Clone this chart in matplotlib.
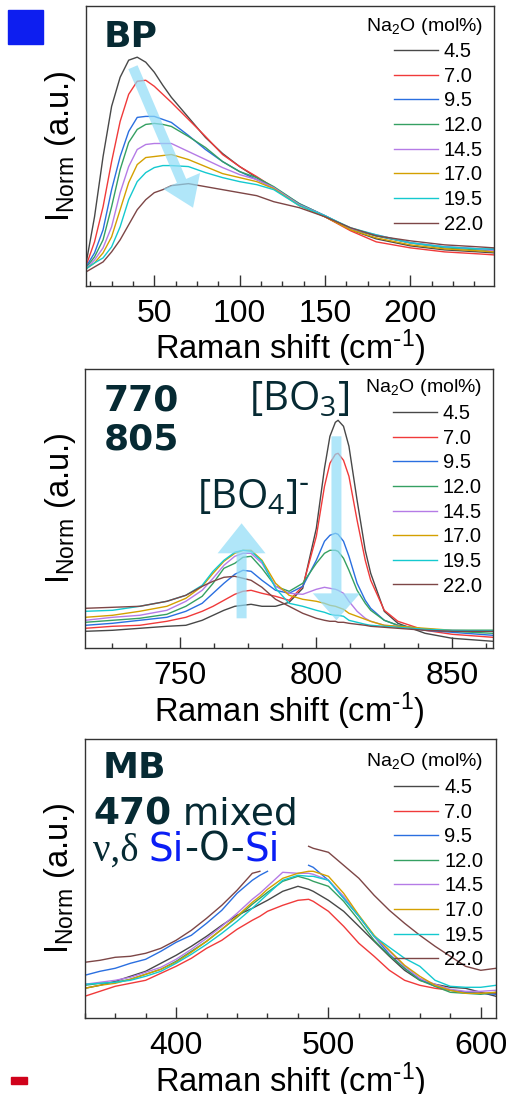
import numpy as np
import matplotlib
matplotlib.use('Agg')
import matplotlib.pyplot as plt
from matplotlib.patches import Rectangle
from matplotlib.ticker import MultipleLocator

plt.rcParams['font.family'] = ['Liberation Sans', 'DejaVu Sans']

nan = np.nan
labels = ['4.5', '7.0', '9.5', '12.0', '14.5', '17.0', '19.5', '22.0']
colors = ['#484848', '#f03a3a', '#2a6fe0', '#35a062', '#b57be6', '#d4a000', '#14c9cf', '#7d4646']

# --- BP panel (boson peak) ---
bp_x = [10, 15, 20, 25, 30, 35, 40, 45, 50, 55, 60, 70, 80, 90, 100, 110, 120, 135, 150, 165, 180, 200, 220, 240, 249]
bp_y = [
    [22, 69, 129, 179, 208, 225, 228, 223, 213, 200, 188, 168, 148, 132, 119, 108, 98, 81, 69, 56, 47, 40, 36, 34, 33],
    [20, 44, 79, 124, 164, 191, 204, 205, 199, 191, 183, 166, 149, 131, 119, 109, 98, 81, 69, 55, 44, 38, 34, 32, 31],
    [19, 33, 56, 96, 129, 154, 168, 169, 169, 166, 163, 150, 136, 124, 114, 106, 98, 82, 70, 57, 50, 43, 39, 37, 36],
    [18, 29, 46, 79, 116, 143, 156, 161, 162, 161, 159, 149, 138, 124, 114, 108, 99, 82, 70, 57, 50, 43, 38, 36, 35],
    [17, 26, 38, 59, 93, 119, 136, 141, 142, 142, 142, 134, 126, 118, 111, 106, 98, 81, 70, 57, 51, 43, 39, 37, 35],
    [17, 23, 33, 49, 76, 103, 121, 128, 129, 130, 131, 126, 119, 112, 108, 104, 97, 80, 69, 56, 48, 41, 37, 35, 34],
    [17, 23, 28, 39, 59, 86, 104, 113, 118, 120, 120, 119, 113, 108, 104, 101, 96, 80, 70, 58, 51, 43, 39, 37, 37],
    [14, 19, 24, 34, 46, 61, 76, 86, 93, 96, 100, 102, 99, 96, 93, 90, 84, 78, 69, 58, 50, 45, 41, 39, 38],
]

# --- 770 / 805 panel ---
b_x = [715, 725, 735, 745, 752, 758, 762, 766, 770, 773, 776, 780, 785, 790, 795, 800, 803, 805, 807, 808,
       810, 812, 815, 818, 820, 825, 830, 840, 850, 865]
b_y = [
    [17, 18, 20, 22, 23, 28, 33, 38, 42, 43, 44, 42, 42, 46, 60, 120, 180, 212, 226, 228, 222, 202, 148, 98, 75, 37, 25, 15, 10, 7],
    [20, 22, 23, 27, 31, 37, 42, 48, 54, 57, 58, 55, 52, 48, 62, 112, 162, 185, 194, 195, 188, 172, 128, 88, 68, 38, 27, 18, 14, 11],
    [23, 25, 28, 31, 37, 45, 55, 65, 74, 78, 77, 68, 58, 55, 62, 88, 107, 113, 115, 114, 107, 92, 65, 48, 40, 28, 23, 18, 16, 13],
    [26, 28, 30, 34, 42, 52, 65, 80, 85, 91, 92, 80, 62, 57, 65, 85, 95, 98, 98, 97, 90, 78, 58, 45, 38, 28, 23, 19, 17, 15],
    [28, 31, 33, 38, 47, 58, 70, 83, 92, 95, 95, 85, 62, 55, 54, 59, 61, 60, 59, 58, 55, 47, 37, 30, 27, 23, 22, 19, 18, 17],
    [31, 33, 37, 42, 50, 62, 75, 87, 95, 98, 98, 88, 65, 53, 49, 47, 45, 43, 42, 41, 39, 35, 32, 29, 27, 23, 22, 20, 18, 18],
    [37, 38, 42, 47, 53, 63, 77, 88, 96, 98, 97, 87, 60, 45, 42, 38, 36, 34, 33, 33, 32, 28, 26, 24, 23, 22, 21, 19, 18, 18],
    [40, 41, 42, 47, 53, 62, 67, 71, 72, 70, 68, 61, 49, 42, 35, 30, 28, 27, 27, 26, 26, 25, 24, 23, 22, 21, 20, 18, 17, 17],
]

# --- MB panel ---
mb_x = [340, 350, 360, 370, 380, 390, 400, 410, 420, 430, 440, 450, 455, 460, 470, 480, 487, 490,
        500, 510, 520, 530, 540, 550, 560, 570, 580, 590, 600, 610]
mb_y = [
    [30, 33, 37, 42, 47, 55, 63, 72, 82, 93, 103, 110, 114, 118, 127, 132, 129, 127, 118, 107, 92, 77, 62, 48, 38, 34, 31, 30, 26, 22],
    [22, 27, 32, 35, 38, 45, 52, 60, 70, 78, 89, 98, 102, 107, 113, 118, 119, 117, 107, 92, 75, 62, 48, 38, 33, 30, 28, 26, 25, 25],
    [43, 47, 50, 55, 59, 67, 76, 83, 95, 108, 125, 138, 143, 147, nan, nan, 153, 151, 138, 120, 102, 82, 64, 50, 39, 32, 28, 26, 25, 24],
    [33, 35, 36, 39, 44, 49, 57, 67, 77, 89, 101, 114, 120, 126, 137, 142, 139, 137, 132, 117, 98, 78, 63, 50, 38, 32, 26, 25, 24, 26],
    [34, 36, 38, 41, 46, 51, 59, 69, 80, 92, 105, 119, 125, 132, 146, 145, 145, 144, 138, 122, 102, 82, 67, 52, 40, 34, 29, 27, 27, 28],
    [30, 33, 35, 39, 44, 49, 56, 66, 77, 89, 102, 116, 122, 129, 140, 145, 147, 147, 142, 125, 103, 83, 68, 53, 42, 33, 28, 25, 25, 26],
    [34, 35, 36, 38, 42, 47, 55, 64, 74, 85, 97, 110, 117, 124, 138, 143, 142, 142, 138, 120, 102, 82, 71, 60, 52, 38, 32, 31, 31, 33],
    [56, 58, 61, 62, 65, 70, 78, 88, 100, 113, 128, 145, 147, nan, nan, nan, 172, 170, 166, 153, 140, 123, 108, 95, 83, 72, 62, 52, 48, 50],
]

dark = '#062a33'
W, H = 508, 1094
fig = plt.figure(figsize=(W / 100, H / 100), dpi=100)


def panel(left, top, right, bottom):
    return fig.add_axes([left / W, 1 - bottom / H, (right - left) / W, (bottom - top) / H])


def style(ax, xlim, major, minor):
    ax.set_xlim(*xlim)
    ax.set_ylim(0, 279)
    ax.xaxis.set_major_locator(MultipleLocator(major))
    ax.xaxis.set_minor_locator(MultipleLocator(minor))
    ax.tick_params(axis='x', which='both', direction='in', top=False, labelsize=23, pad=9.5, color='#333333')
    ax.tick_params(axis='x', which='major', length=8, width=1)
    ax.tick_params(axis='x', which='minor', length=3.5, width=1)
    ax.set_yticks([])
    ax.set_xlabel(r'Raman shift (cm$\mathregular{^{\text{-}1}}$)', fontsize=23.5, labelpad=-1)
    ax.set_ylabel(r'$\mathregular{I_{Norm}}$ (a.u.)', fontsize=23.5, labelpad=5.5)
    for s in ax.spines.values():
        s.set_color('#333333')
        s.set_linewidth(1)


def legend(ax, x, y):
    ax.legend(title=r'$\mathregular{Na_2O\ (mol\%)}$', loc='upper right', bbox_to_anchor=(x, y),
              frameon=False, fontsize=14.5, title_fontsize=14, alignment='right',
              handlelength=2.2, handletextpad=0.3, labelspacing=0.28, borderpad=0, borderaxespad=0)


def arrow(ax, start, end, hw, hl, tw=7.2):
    ax.annotate('', xy=end, xytext=start,
                arrowprops=dict(arrowstyle=f'simple,head_length={hl},head_width={hw},tail_width={tw}',
                                mutation_scale=1, color='#8fdcf7', alpha=0.7, lw=0,
                                shrinkA=0, shrinkB=0))


# panel 1
ax1 = panel(86, 6, 494, 286)
for ys, c, lab in zip(bp_y, colors, labels):
    ax1.plot(bp_x, ys, color=c, lw=1.0, label=lab)
style(ax1, (10, 249), 50, 12.5)
legend(ax1, 0.973, 0.966)
arrow(ax1, (37.5, 218), (72.7, 78), 29, 21)
ax1.text(0.044, 0.854, 'BP', transform=ax1.transAxes, fontsize=26, fontweight='bold',
         family='DejaVu Sans', color=dark, va='baseline')

# panel 2
ax2 = panel(85.3, 369.3, 493, 648.3)
for ys, c, lab in zip(b_y, colors, labels):
    ax2.plot(b_x, ys, color=c, lw=1.0, label=lab)
style(ax2, (715, 865), 50, 12.5)
legend(ax2, 0.973, 0.971)
arrow(ax2, (772.5, 30), (772.5, 125), 34.5, 21.6)
arrow(ax2, (807.4, 212), (807.4, 28), 34, 19.4)
for txt, yy in [('770', 0.854), ('805', 0.711)]:
    ax2.text(0.046, yy, txt, transform=ax2.transAxes, fontsize=26, fontweight='bold',
             family='DejaVu Sans', color=dark, va='baseline')
ax2.text(0.4015, 0.854, r'$\mathregular{[BO_3]}$', transform=ax2.transAxes, fontsize=29,
         family='Open Sans', color=dark, va='baseline')
ax2.text(0.273, 0.502, r'$\mathregular{[BO_4]^{\text{-}}}$', transform=ax2.transAxes, fontsize=29,
         family='Open Sans', color=dark, va='baseline')

# panel 3
ax3 = panel(84.7, 739.3, 496, 1018.3)
for ys, c, lab in zip(mb_y, colors, labels):
    ax3.plot(mb_x, ys, color=c, lw=1.0, label=lab)
style(ax3, (340, 610), 100, 20)
legend(ax3, 0.969, 0.957)
ax3.text(0.0445, 0.861, 'MB', transform=ax3.transAxes, fontsize=26, fontweight='bold',
         family='DejaVu Sans', color=dark, va='baseline')
t470 = ax3.text(0.020, 0.695, '470', transform=ax3.transAxes, fontsize=27, fontweight='bold',
                family='DejaVu Sans', color=dark, va='baseline')
ax3.annotate(' mixed', xy=(1, 0.695), xycoords=(t470, ax3.transAxes), fontsize=27,
             family='DejaVu Sans', color=dark, va='baseline', ha='left')
prev = ax3.text(0.020, 0.564, '\u03bd,\u03b4 ', transform=ax3.transAxes, fontsize=28,
                family='Liberation Serif', color=dark, va='baseline')
for piece, c in [('Si', '#0a1ef5'), ('-O-', dark), ('Si', '#0a1ef5')]:
    prev = ax3.annotate(piece, xy=(1, 0.564), xycoords=(prev, ax3.transAxes), fontsize=28,
                        family='DejaVu Sans', color=c, va='baseline', ha='left')

# side markers
fig.add_artist(Rectangle((8 / W, 1 - 44 / H), 35 / W, 34 / H, transform=fig.transFigure,
                         color='#0d1ef0'))
fig.add_artist(Rectangle((11 / W, 1 - 1084 / H), 16 / W, 7 / H, transform=fig.transFigure,
                         color='#d0021b'))

fig.savefig('out.png', dpi=100)
